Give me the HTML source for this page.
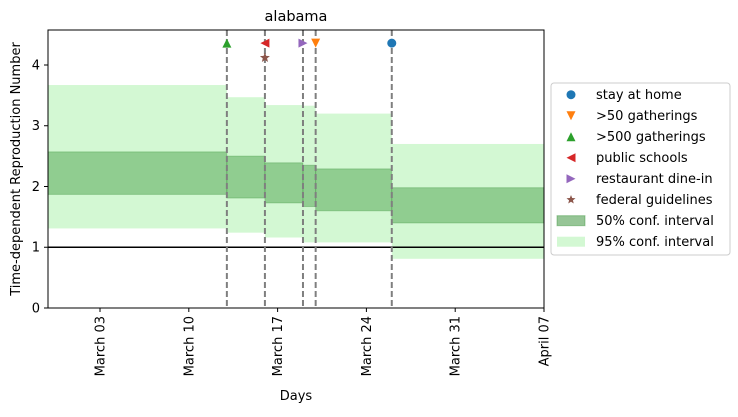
<!DOCTYPE html>
<html><head><meta charset="utf-8"><style>
body{margin:0;background:#fff;}
svg text{font-family:"DejaVu Sans","Liberation Sans",sans-serif;fill:#000;}
</style></head><body>
<svg id="chart" width="738" height="412" xmlns="http://www.w3.org/2000/svg"></svg>
<script>
// day index: 0 = March 01
const segStarts = [-2.1, 12, 15, 18, 19, 25];
const segEnds   = [12, 15, 18, 19, 25, 37];
const ci95Low  = [1.31, 1.24, 1.16, 1.08, 1.08, 0.81];
const ci95High = [3.67, 3.47, 3.34, 3.33, 3.20, 2.70];
const ci50Low  = [1.87, 1.81, 1.73, 1.67, 1.60, 1.40];
const ci50High = [2.57, 2.50, 2.39, 2.35, 2.29, 1.98];
const eventNames = ["stay at home", ">50 gatherings", ">500 gatherings", "public schools", "restaurant dine-in", "federal guidelines"];
const eventDays  = [25, 19, 12, 15, 18, 15];
const eventVals  = [4.36, 4.36, 4.36, 4.36, 4.36, 4.12];
const eventLines = [12, 15, 18, 19, 25];
const xTickDays = [2, 9, 16, 23, 30, 37];
const xTickLabels = ["March 03", "March 10", "March 17", "March 24", "March 31", "April 07"];
const yTicks = [0, 1, 2, 3, 4];

const L=48,R=544,T=30,B=308;
const xMin=-2.1,xMax=37,yMin=0,yMax=4.576;
const X=d=>L+(d-xMin)/(xMax-xMin)*(R-L);
const Y=v=>B-(v-yMin)/(yMax-yMin)*(B-T);
const svg=document.getElementById('chart');
const NS="http://www.w3.org/2000/svg";
function el(tag,attrs,parent){const e=document.createElementNS(NS,tag);for(const k in attrs)e.setAttribute(k,attrs[k]);(parent||svg).appendChild(e);return e;}
const colors=["#1f77b4","#ff7f0e","#2ca02c","#d62728","#9467bd","#8c564b"];
const shapes=["circle","down","up","left","right","star"];
function marker(shape,cx,cy,c,s,parent){
  let e;
  if(shape==="circle") e=el('circle',{cx,cy,r:s,fill:c},parent);
  else{
    let p;
    if(shape==="down") p=[[cx-s,cy-s],[cx+s,cy-s],[cx,cy+s]];
    if(shape==="up") p=[[cx-s,cy+s],[cx+s,cy+s],[cx,cy-s]];
    if(shape==="left") p=[[cx+s,cy-s],[cx+s,cy+s],[cx-s,cy]];
    if(shape==="right") p=[[cx-s,cy-s],[cx-s,cy+s],[cx+s,cy]];
    if(shape==="star"){p=[];for(let i=0;i<10;i++){const a=-Math.PI/2+i*Math.PI/5,r=i%2?s*0.45:s*1.05;p.push([cx+r*Math.cos(a),cy+r*Math.sin(a)]);}}
    e=el('polygon',{points:p.map(q=>q.join(',')).join(' '),fill:c},parent);
  }
  return e;
}
for(let i=0;i<segStarts.length;i++){
  const x1=X(Math.max(segStarts[i],xMin)),x2=X(segEnds[i]);
  const r95=el('rect',{x:x1,y:Y(ci95High[i]),width:x2-x1,height:Y(ci95Low[i])-Y(ci95High[i]),fill:"#90ee90","fill-opacity":0.4});
  
  
  const r50=el('rect',{x:x1,y:Y(ci50High[i]),width:x2-x1,height:Y(ci50Low[i])-Y(ci50High[i]),fill:"#2e8b2e","fill-opacity":0.4,stroke:"#2e8b2e","stroke-opacity":0.3,"stroke-width":1});
  
  
}
const one=el('line',{x1:L,x2:R,y1:Y(1),y2:Y(1),stroke:"#000","stroke-width":1.5});


eventLines.forEach(d=>{
  const l=el('line',{x1:X(d),x2:X(d),y1:T,y2:B,stroke:"#7f7f7f","stroke-width":2,"stroke-dasharray":"6,3"});
  
  
});
eventNames.forEach((n,i)=>{
  const m=marker(shapes[i],X(eventDays[i]),Y(eventVals[i]),colors[i],i===5?5:4.5);
  
  
});
const frame=el('rect',{x:L,y:T,width:R-L,height:B-T,fill:"none",stroke:"#000","stroke-width":1});


yTicks.forEach(v=>{
  el('line',{x1:L-4,x2:L,y1:Y(v),y2:Y(v),stroke:"#000"});
  const t=el('text',{x:L-8,y:Y(v)+4.5,"text-anchor":"end","font-size":13});
  t.textContent=v;
  
  
});
xTickDays.forEach((d,i)=>{
  el('line',{x1:X(d),x2:X(d),y1:B,y2:B+4,stroke:"#000"});
  const t=el('text',{transform:`translate(${X(d)+4.5},${B+8}) rotate(-90)`,"text-anchor":"end","font-size":13});
  t.textContent=xTickLabels[i];
  
  
});
const title=el('text',{x:(L+R)/2,y:21,"text-anchor":"middle","font-size":14.5});
title.textContent="alabama";


const xt=el('text',{x:(L+R)/2,y:400,"text-anchor":"middle","font-size":13});
xt.textContent="Days";


const yt=el('text',{transform:`translate(20,${(T+B)/2}) rotate(-90)`,"text-anchor":"middle","font-size":13});
yt.textContent="Time-dependent Reproduction Number";


const lg=el('g',{});


el('rect',{x:551,y:83,width:179,height:172,rx:3,fill:"#fff",stroke:"#ccc"},lg);
const labels=eventNames.concat(["50% conf. interval","95% conf. interval"]);
labels.forEach((n,i)=>{
  const cy=94.7+i*21;
  if(i<6) marker(shapes[i],571,cy,colors[i],4.5,lg);
  else if(i===6) el('rect',{x:557,y:cy-5,width:28,height:10,fill:"#2e8b2e","fill-opacity":0.5,stroke:"#2e8b2e","stroke-opacity":0.4},lg);
  else el('rect',{x:557,y:cy-5,width:28,height:10,fill:"#90ee90","fill-opacity":0.4},lg);
  const t=el('text',{x:596,y:cy+4.5,"font-size":13},lg);
  t.textContent=n;
  
  
});
</script>
</body></html>
